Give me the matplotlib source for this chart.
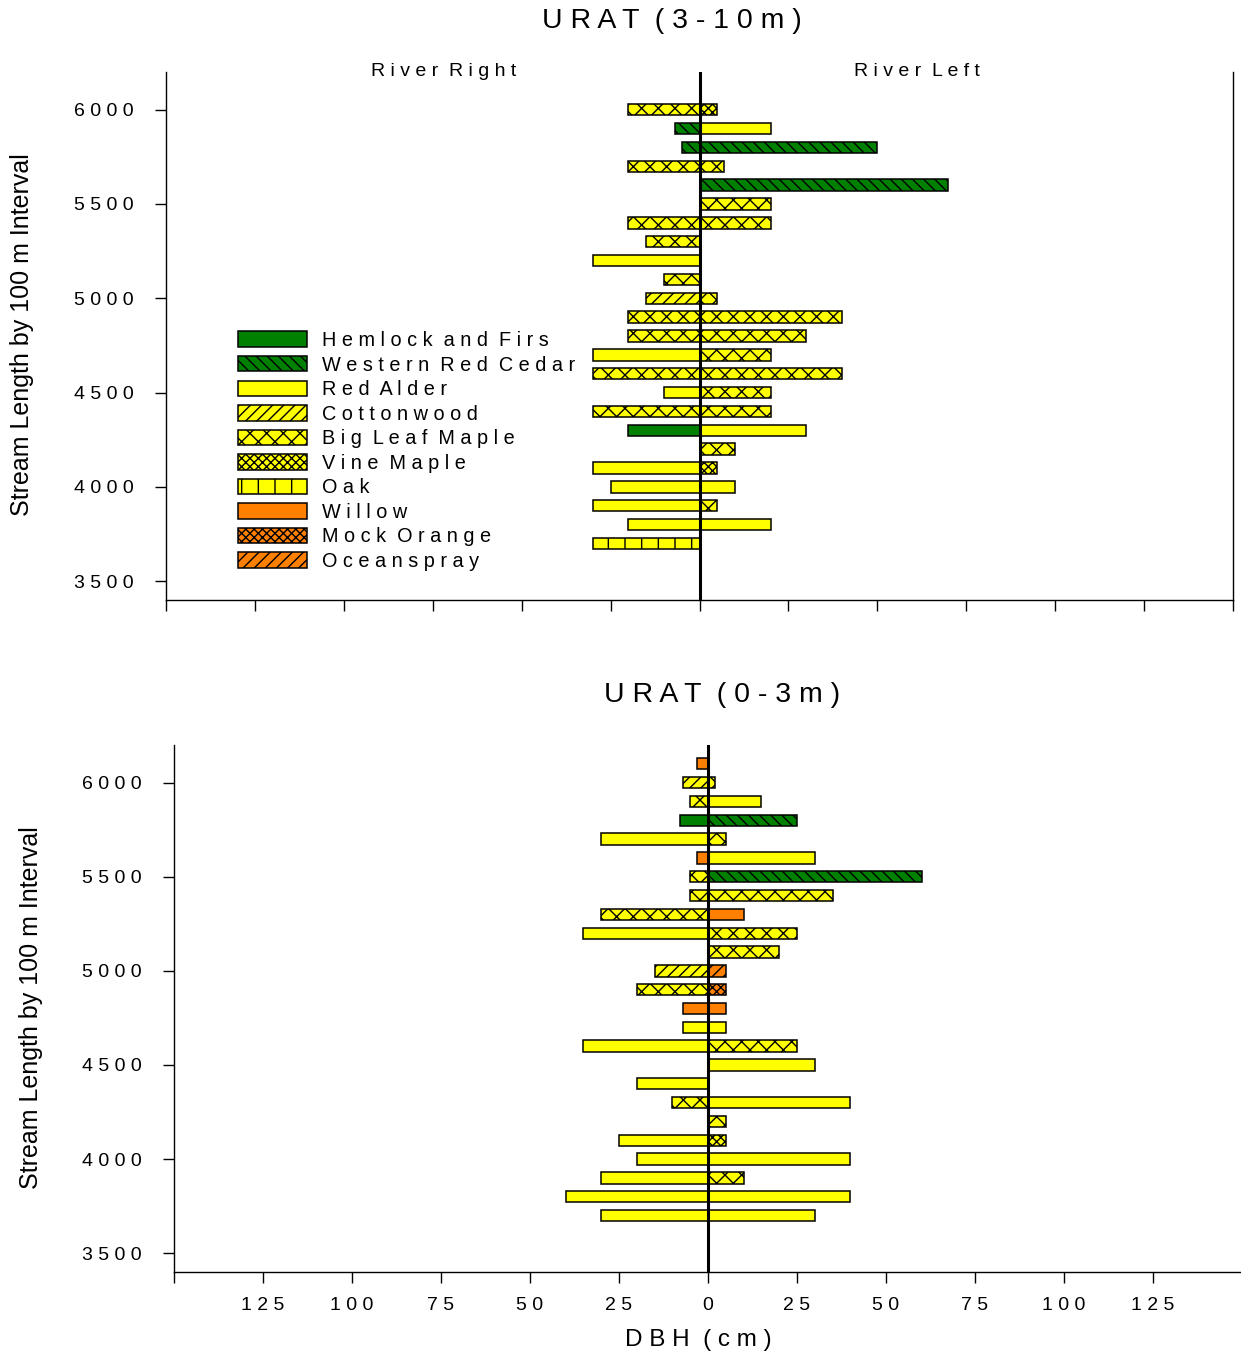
import matplotlib
matplotlib.use("Agg")
import matplotlib.pyplot as plt
from matplotlib.patches import Patch

plt.rcParams["font.family"] = ["Liberation Sans", "DejaVu Sans"]
plt.rcParams["hatch.linewidth"] = 1.0

# ---- species styles ----
species_names = ["Hemlock and Firs", "Western Red Cedar", "Red Alder", "Cottonwood",
                 "Big Leaf Maple", "Vine Maple", "Oak", "Willow", "Mock Orange", "Oceanspray"]
species_colors = ["#008000", "#008000", "#FFFF00", "#FFFF00", "#FFFF00",
                  "#FFFF00", "#FFFF00", "#FF8000", "#FF8000", "#FF8000"]
species_hatches = [None, "\\\\\\", None, "///", "xx", "xxxx", "|", None, "xxxx", "///"]

HF, WRC, RA, CW, BLM, VM, OAK, WIL, MO, OS = species_names

# ---- URAT (3-10m) ----
top_interval = [6000, 5900, 5800, 5700, 5600, 5500, 5400, 5300, 5200, 5100, 5000, 4900,
                4800, 4700, 4600, 4500, 4400, 4300, 4200, 4100, 4000, 3900, 3800, 3700]
top_right_species = [BLM, WRC, WRC, BLM, None, None, BLM, BLM, RA, BLM, CW, BLM,
                     BLM, RA, BLM, RA, BLM, HF, None, RA, RA, RA, RA, OAK]
top_right_dbh = [20, 7, 5, 20, 0, 0, 20, 15, 30, 10, 15, 20,
                 20, 30, 30, 10, 30, 20, 0, 30, 25, 30, 20, 30]
top_left_species = [VM, RA, WRC, BLM, WRC, BLM, BLM, None, None, None, BLM, BLM,
                    BLM, BLM, BLM, BLM, BLM, RA, BLM, VM, RA, BLM, RA, None]
top_left_dbh = [5, 20, 50, 7, 70, 20, 20, 0, 0, 0, 5, 40,
                30, 20, 40, 20, 20, 30, 10, 5, 10, 5, 20, 0]

# ---- URAT (0-3m) ----
bot_interval = [6100, 6000, 5900, 5800, 5700, 5600, 5500, 5400, 5300, 5200, 5100, 5000, 4900,
                4800, 4700, 4600, 4500, 4400, 4300, 4200, 4100, 4000, 3900, 3800, 3700]
bot_right_species = [WIL, CW, BLM, HF, RA, WIL, BLM, BLM, BLM, RA, None, CW, BLM,
                     WIL, RA, RA, None, RA, BLM, None, RA, RA, RA, RA, RA]
bot_right_dbh = [3, 7, 5, 8, 30, 3, 5, 5, 30, 35, 0, 15, 20,
                 7, 7, 35, 0, 20, 10, 0, 25, 20, 30, 40, 30]
bot_left_species = [None, BLM, RA, WRC, BLM, RA, WRC, BLM, WIL, BLM, BLM, OS, MO,
                    WIL, RA, BLM, RA, None, RA, BLM, VM, RA, BLM, RA, RA]
bot_left_dbh = [0, 2, 15, 25, 5, 30, 60, 35, 10, 25, 20, 5, 5,
                5, 5, 25, 30, 0, 40, 5, 5, 40, 10, 40, 30]

x_ticks = list(range(-150, 151, 25))
y_ticks = [3500, 4000, 4500, 5000, 5500, 6000]


def spaced(s):
    return " ".join(s)


W, H = 1241, 1356
fig = plt.figure(figsize=(W / 100, H / 100), dpi=100)


def px_axes(l, t, r, b):
    return fig.add_axes([l / W, 1 - b / H, (r - l) / W, (b - t) / H])


def draw_side(ax, ys, species, dbh, sign):
    for name, col, hat in zip(species_names, species_colors, species_hatches):
        yy = [y for y, s in zip(ys, species) if s == name]
        vv = [sign * v for v, s in zip(dbh, species) if s == name]
        if yy:
            ax.barh(yy, vv, height=60, left=0, color=col, hatch=hat,
                    edgecolor="black", linewidth=1.1, zorder=2)


def style_axes(ax, show_xlabels, ypad):
    ax.set_xlim(-150, 150)
    ax.set_ylim(3400, 6200)
    ax.spines["top"].set_visible(False)
    for s in ("left", "bottom", "right"):
        ax.spines[s].set_linewidth(1.0)
    ax.set_xticks(x_ticks)
    ax.set_xticklabels(["" if abs(v) == 150 else spaced(str(abs(v))) for v in x_ticks])
    ax.set_yticks(y_ticks)
    ax.set_yticklabels([spaced(str(v)) for v in y_ticks])
    ax.tick_params(axis="x", direction="out", length=8, width=1.0, pad=10,
                   labelsize=14)
    ax.tick_params(axis="x", labelbottom=show_xlabels)
    ax.tick_params(axis="y", direction="out", length=8, width=1.0, pad=ypad,
                   labelsize=14)
    ax.axvline(0, color="black", linewidth=2.2, zorder=5)


# Top panel
ax1 = px_axes(166, 72, 1233, 600)
draw_side(ax1, top_interval, top_right_species, top_right_dbh, -1)
draw_side(ax1, top_interval, top_left_species, top_left_dbh, 1)
style_axes(ax1, False, 15)
ax1.text(-72, 6200, spaced("River") + "  " + spaced("Right"), ha="center", va="center",
         fontsize=14, clip_on=False)
ax1.text(61, 6200, spaced("River") + "  " + spaced("Left"), ha="center", va="center",
         fontsize=14, clip_on=False)

handles = [Patch(facecolor=c, edgecolor="black", hatch=h, linewidth=1.1)
           for c, h in zip(species_colors, species_hatches)]
ax1.legend(handles, [spaced(n).replace("   ", "  ") for n in species_names],
           loc="upper left", bbox_to_anchor=(238 / W, 1 - 331 / H),
           bbox_transform=fig.transFigure, frameon=False, fontsize=14.3,
           borderpad=0, borderaxespad=0, handlelength=3.45, handleheight=0.82,
           handletextpad=0.8, labelspacing=0.28)

# Bottom panel
ax2 = px_axes(174, 745, 1242, 1272)
draw_side(ax2, bot_interval, bot_right_species, bot_right_dbh, -1)
draw_side(ax2, bot_interval, bot_left_species, bot_left_dbh, 1)
style_axes(ax2, True, 15)

# Titles and axis labels
fig.text(672 / W, 1 - 21 / H, spaced("URAT") + "  " + spaced("(3-10m)"),
         ha="center", va="center", fontsize=20.5)
fig.text(722 / W, 1 - 695 / H, spaced("URAT") + "  " + spaced("(0-3m)"),
         ha="center", va="center", fontsize=20.5)
fig.text(22 / W, 1 - 335 / H, "Stream Length by 100 m Interval", rotation=90,
         ha="center", va="center", fontsize=18)
fig.text(31 / W, 1 - 1008 / H, "Stream Length by 100 m Interval", rotation=90,
         ha="center", va="center", fontsize=18)
fig.text(698 / W, 1 - 1340 / H, spaced("DBH") + "  " + spaced("(cm)"),
         ha="center", va="center", fontsize=17.5)

fig.savefig("out.png", dpi=100)
